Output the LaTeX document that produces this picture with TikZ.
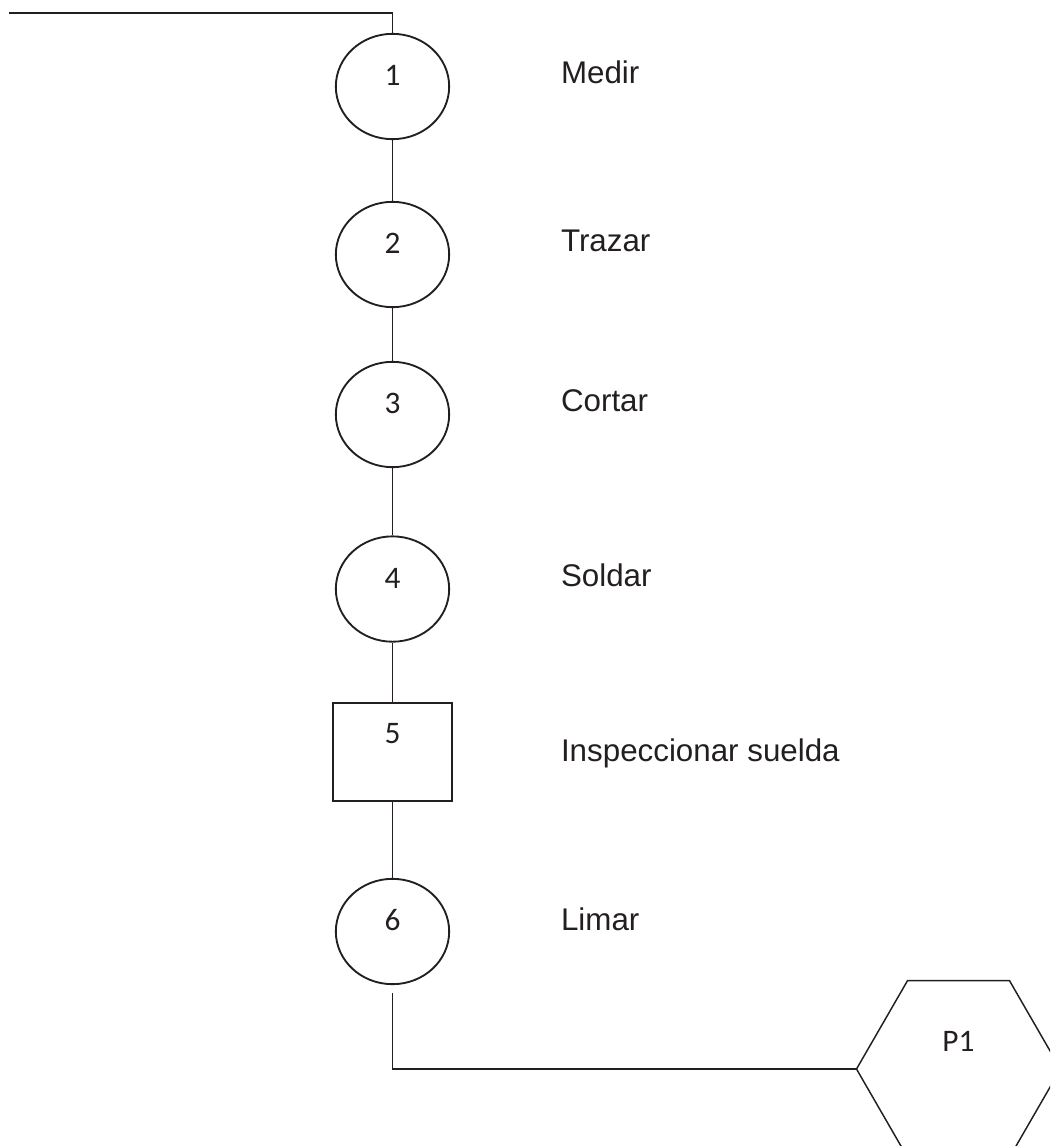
\documentclass[tikz,border=0pt]{standalone}
\usepackage{fontspec}
\setmainfont{Liberation Sans}
\newfontfamily\numfont{Carlito}
\usetikzlibrary{positioning, shapes.geometric}
\definecolor{tinta}{RGB}{35,31,32}
\tikzstyle{circ_style} = [ellipse, draw=tinta, line width=1.4pt, minimum width=85pt, minimum height=79pt, inner sep=0pt, text=tinta, font=\numfont\fontsize{23.5}{28}\selectfont, text height=15pt, text depth=16pt]
\tikzstyle{box_style} = [rectangle, draw=tinta, line width=1.4pt, minimum width=89pt, minimum height=73pt, inner sep=0pt, text=tinta, font=\numfont\fontsize{23.5}{28}\selectfont, text height=15pt, text depth=28.5pt]
\tikzstyle{hex_style} = [regular polygon, regular polygon sides=6, draw=tinta, line width=1.1pt, minimum size=153pt, inner sep=0pt, text=tinta, font=\numfont\fontsize{23.5}{28}\selectfont, text height=15pt, text depth=42pt]
\tikzstyle{label_style} = [inner sep=0pt, text=tinta, font=\fontsize{23.5}{28}\selectfont]
\tikzstyle{line_style} = [draw=tinta, line width=1.4pt]

\begin{document}
\begin{tikzpicture}[x=0.75pt, y=0.75pt, node distance=126pt]
	  \useasboundingbox (0,0) rectangle (1050,-1146);
	  \clip (0,0) rectangle (1050,-1146);

	  % operaciones
	  \node[circ_style] (c1) at (392.5,-86.5) {1};
	  \node[circ_style, below of=c1] (c2) {2};
	  \node[circ_style, below of=c2, yshift=6pt] (c3) {3};
	  \node[circ_style, below of=c3, yshift=-4.9pt] (c4) {4};
	  \node[box_style, below of=c4, yshift=3.75pt] (s5) {5}; % inspeccion
	  \node[circ_style, below of=s5, yshift=-8.6pt] (c6) {6};
	  \node[hex_style] (p1) at (958.5,-1069) {P1};

	  % textos
	  \node[label_style, right=83pt of c1, anchor=base west, yshift=2pt] (t1) {Medir};
	  \node[label_style, right=83pt of c2, anchor=base west, yshift=2pt] (t2) {Trazar};
	  \node[label_style, right=83pt of c3, anchor=base west, yshift=2pt] (t3) {Cortar};
	  \node[label_style, right=83pt of c4, anchor=base west, yshift=2pt] (t4) {Soldar};
	  \node[label_style, right=81pt of s5, anchor=base west, yshift=-6.75pt] (t5) {Inspeccionar suelda};
	  \node[label_style, right=83pt of c6, anchor=base west, yshift=1pt] (t6) {Limar};

	  % lineas
	  \coordinate (inicio) at (9,-13);
	  \draw[line_style] (inicio) -| (c1.north);
	  \draw[line_style] (c1.south) -- (c2.north);
	  \draw[line_style] (c2.south) -- (c3.north);
	  \draw[line_style] (c3.south) -- (c4.north);
	  \draw[line_style] (c4.south) -- (s5.north);
	  \draw[line_style] (s5.south) -- (c6.north);
	  \draw[line_style] ([yshift=-6pt]c6.south) |- (p1.west);

\end{tikzpicture}
\end{document}
